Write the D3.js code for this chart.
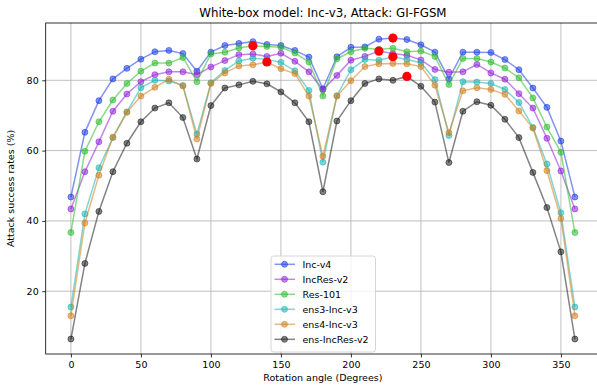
<!DOCTYPE html>
<html>
<head>
<meta charset="utf-8">
<script src="https://cdn.jsdelivr.net/npm/d3@7"></script>
<style>
  html, body { margin: 0; padding: 0; background: #fff; }
  svg { display: block; font-family: "DejaVu Sans", sans-serif; }
</style>
</head>
<body>
<svg id="chart" width="597" height="385"></svg>
<script>
// Rotation angles (degrees)
const angles = d3.range(0, 361, 10);

// Attack success rate (%) per black-box model, one value per angle
const incV4 = [46.8, 65.2, 74.2, 80.4, 83.4, 86.0, 88.1, 88.5, 87.6, 82.6,
  88.0, 89.9, 90.5, 91.0, 90.2, 89.9, 88.5, 86.6, 77.6, 86.7,
  89.4, 89.5, 91.7, 92.0, 91.6, 90.1, 88.0, 80.4, 88.0, 88.0,
  87.9, 85.9, 83.0, 77.8, 72.3, 62.7, 46.8];
const incResV2 = [43.4, 54.0, 62.5, 71.2, 76.1, 79.6, 81.6, 82.4, 82.4, 81.6,
  83.8, 85.6, 87.3, 87.5, 86.8, 87.7, 85.4, 82.4, 77.3, 81.4,
  85.7, 86.8, 88.3, 87.6, 87.1, 85.8, 83.1, 82.3, 82.4, 84.5,
  82.1, 80.3, 76.2, 72.1, 63.5, 54.2, 43.4];
const res101 = [36.7, 59.8, 68.2, 74.4, 79.1, 82.6, 84.9, 84.9, 86.5, 79.6,
  87.5, 88.0, 89.2, 89.8, 89.6, 89.4, 87.8, 85.2, 75.5, 86.1,
  88.1, 89.1, 88.8, 89.1, 88.1, 88.3, 86.8, 78.8, 86.2, 86.2,
  85.2, 83.5, 80.7, 75.0, 66.7, 59.5, 36.7];
const ens3IncV3 = [15.5, 42.0, 55.1, 63.7, 71.0, 77.9, 80.0, 79.8, 78.5, 64.7,
  79.3, 82.8, 85.5, 86.3, 85.9, 85.1, 82.7, 77.1, 56.7, 75.6,
  83.0, 85.9, 85.7, 86.7, 85.9, 85.0, 80.2, 64.3, 79.6, 79.5,
  79.1, 77.4, 73.7, 66.6, 56.2, 42.3, 15.5];
const ens4IncV3 = [13.0, 39.4, 53.0, 63.8, 70.9, 75.5, 78.0, 80.3, 78.4, 63.3,
  79.1, 82.1, 84.1, 84.4, 85.2, 83.3, 81.9, 75.5, 58.4, 75.5,
  79.9, 83.9, 84.7, 84.8, 84.7, 83.9, 78.6, 65.1, 77.0, 77.9,
  77.4, 76.0, 71.3, 66.4, 54.3, 40.7, 13.0];
const ensIncResV2 = [6.4, 27.9, 42.7, 54.0, 62.1, 68.2, 72.1, 73.6, 69.4, 57.6,
  72.8, 77.8, 78.7, 79.7, 79.0, 76.7, 73.6, 68.2, 48.3, 68.4,
  74.2, 79.1, 80.4, 80.0, 81.1, 78.3, 73.8, 56.6, 71.2, 73.9,
  72.9, 68.9, 63.7, 53.8, 43.8, 31.2, 6.4];

const seriesNames = ["Inc-v4", "IncRes-v2", "Res-101", "ens3-Inc-v3", "ens4-Inc-v3", "ens-IncRes-v2"];
const seriesValues = [incV4, incResV2, res101, ens3IncV3, ens4IncV3, ensIncResV2];
const seriesColors = ["#1a3ce6", "#9420dc", "#2cbc2c", "#1cb4b4", "#d27f1e", "#1e1e1e"];

const xTicks = [0, 50, 100, 150, 200, 250, 300, 350];
const yTicks = [20, 40, 60, 80];

const titleText = "White-box model: Inc-v3, Attack: GI-FGSM";
const xLabel = "Rotation angle (Degrees)";
const yLabel = "Attack success rates (%)";

const svg = d3.select("#chart");
const plotLeft = 45.7, plotRight = 600.1, plotTop = 23, plotBottom = 354;

const x = d3.scaleLinear().domain([-18, 378]).range([plotLeft, plotRight]);
const y = d3.scaleLinear().domain([2.14, 96.3]).range([plotBottom, plotTop]);

// grid
const grid = svg.append("g").attr("stroke", "#b0b0b0").attr("stroke-width", 0.8);
grid.selectAll("line.vx").data(xTicks).join("line")
  .attr("x1", d => x(d)).attr("x2", d => x(d))
  .attr("y1", plotTop).attr("y2", plotBottom);
grid.selectAll("line.hy").data(yTicks).join("line")
  .attr("x1", plotLeft).attr("x2", plotRight)
  .attr("y1", d => y(d)).attr("y2", d => y(d));

// series lines and markers
const line = d3.line().x((d, i) => x(angles[i])).y(d => y(d));
seriesValues.forEach((vals, k) => {
  const g = svg.append("g");
  g.append("path").datum(vals)
    .attr("d", line)
    .attr("fill", "none")
    .attr("stroke", seriesColors[k])
    .attr("stroke-opacity", 0.55)
    .attr("stroke-width", 1.5);
  g.selectAll("circle").data(vals).join("circle")
    .attr("cx", (d, i) => x(angles[i]))
    .attr("cy", d => y(d))
    .attr("r", 3)
    .attr("fill", seriesColors[k])
    .attr("fill-opacity", 0.55)
    .attr("stroke", seriesColors[k])
    .attr("stroke-opacity", 0.55)
    .attr("stroke-width", 1);
});

// highlight each series' maximum
seriesValues.forEach(vals => {
  const i = d3.maxIndex(vals);
  svg.append("circle")
    .attr("cx", x(angles[i])).attr("cy", y(vals[i]))
    .attr("r", 4.6).attr("fill", "#ff0000");
});

// axes
const xAxis = d3.axisBottom(x).tickValues(xTicks).tickSize(3.5).tickPadding(3.5);
const yAxis = d3.axisLeft(y).tickValues(yTicks).tickSize(3.5).tickPadding(3.5);
const gx = svg.append("g").attr("transform", `translate(0,${plotBottom})`).call(xAxis);
const gy = svg.append("g").attr("transform", `translate(${plotLeft},0)`).call(yAxis);
[gx, gy].forEach(g => {
  g.select(".domain").remove();
  g.selectAll("text").attr("font-size", 9.5).attr("fill", "#000").attr("font-family", "DejaVu Sans");
  g.selectAll("line").attr("stroke", "#000").attr("stroke-width", 0.8);
});

// spines
svg.append("rect")
  .attr("x", plotLeft).attr("y", plotTop)
  .attr("width", plotRight - plotLeft).attr("height", plotBottom - plotTop)
  .attr("fill", "none").attr("stroke", "#000").attr("stroke-width", 0.8);

// labels
svg.append("text").attr("x", (plotLeft + plotRight) / 2).attr("y", 17)
  .attr("text-anchor", "middle").attr("font-size", 11.8).text(titleText);
svg.append("text").attr("x", (plotLeft + plotRight) / 2).attr("y", 381)
  .attr("text-anchor", "middle").attr("font-size", 9.5).text(xLabel);
svg.append("text")
  .attr("transform", `translate(13.5,${(plotTop + plotBottom) / 2}) rotate(-90)`)
  .attr("text-anchor", "middle").attr("font-size", 9.5).text(yLabel);

// legend
const lg = svg.append("g").attr("transform", "translate(271,256)");
lg.append("rect").attr("width", 104.5).attr("height", 96).attr("rx", 2.5)
  .attr("fill", "#fff").attr("fill-opacity", 0.8)
  .attr("stroke", "#cccccc").attr("stroke-width", 0.8);
seriesNames.forEach((name, k) => {
  const yy = 8.3 + k * 15;
  lg.append("line").attr("x1", 3.5).attr("x2", 24).attr("y1", yy).attr("y2", yy)
    .attr("stroke", seriesColors[k]).attr("stroke-opacity", 0.55).attr("stroke-width", 1.5);
  lg.append("circle").attr("cx", 13.5).attr("cy", yy).attr("r", 3)
    .attr("fill", seriesColors[k]).attr("fill-opacity", 0.55)
    .attr("stroke", seriesColors[k]).attr("stroke-opacity", 0.55).attr("stroke-width", 1);
  lg.append("text").attr("x", 31.5).attr("y", yy + 3.4)
    .attr("font-size", 9.5).text(name);
});
</script>
</body>
</html>
